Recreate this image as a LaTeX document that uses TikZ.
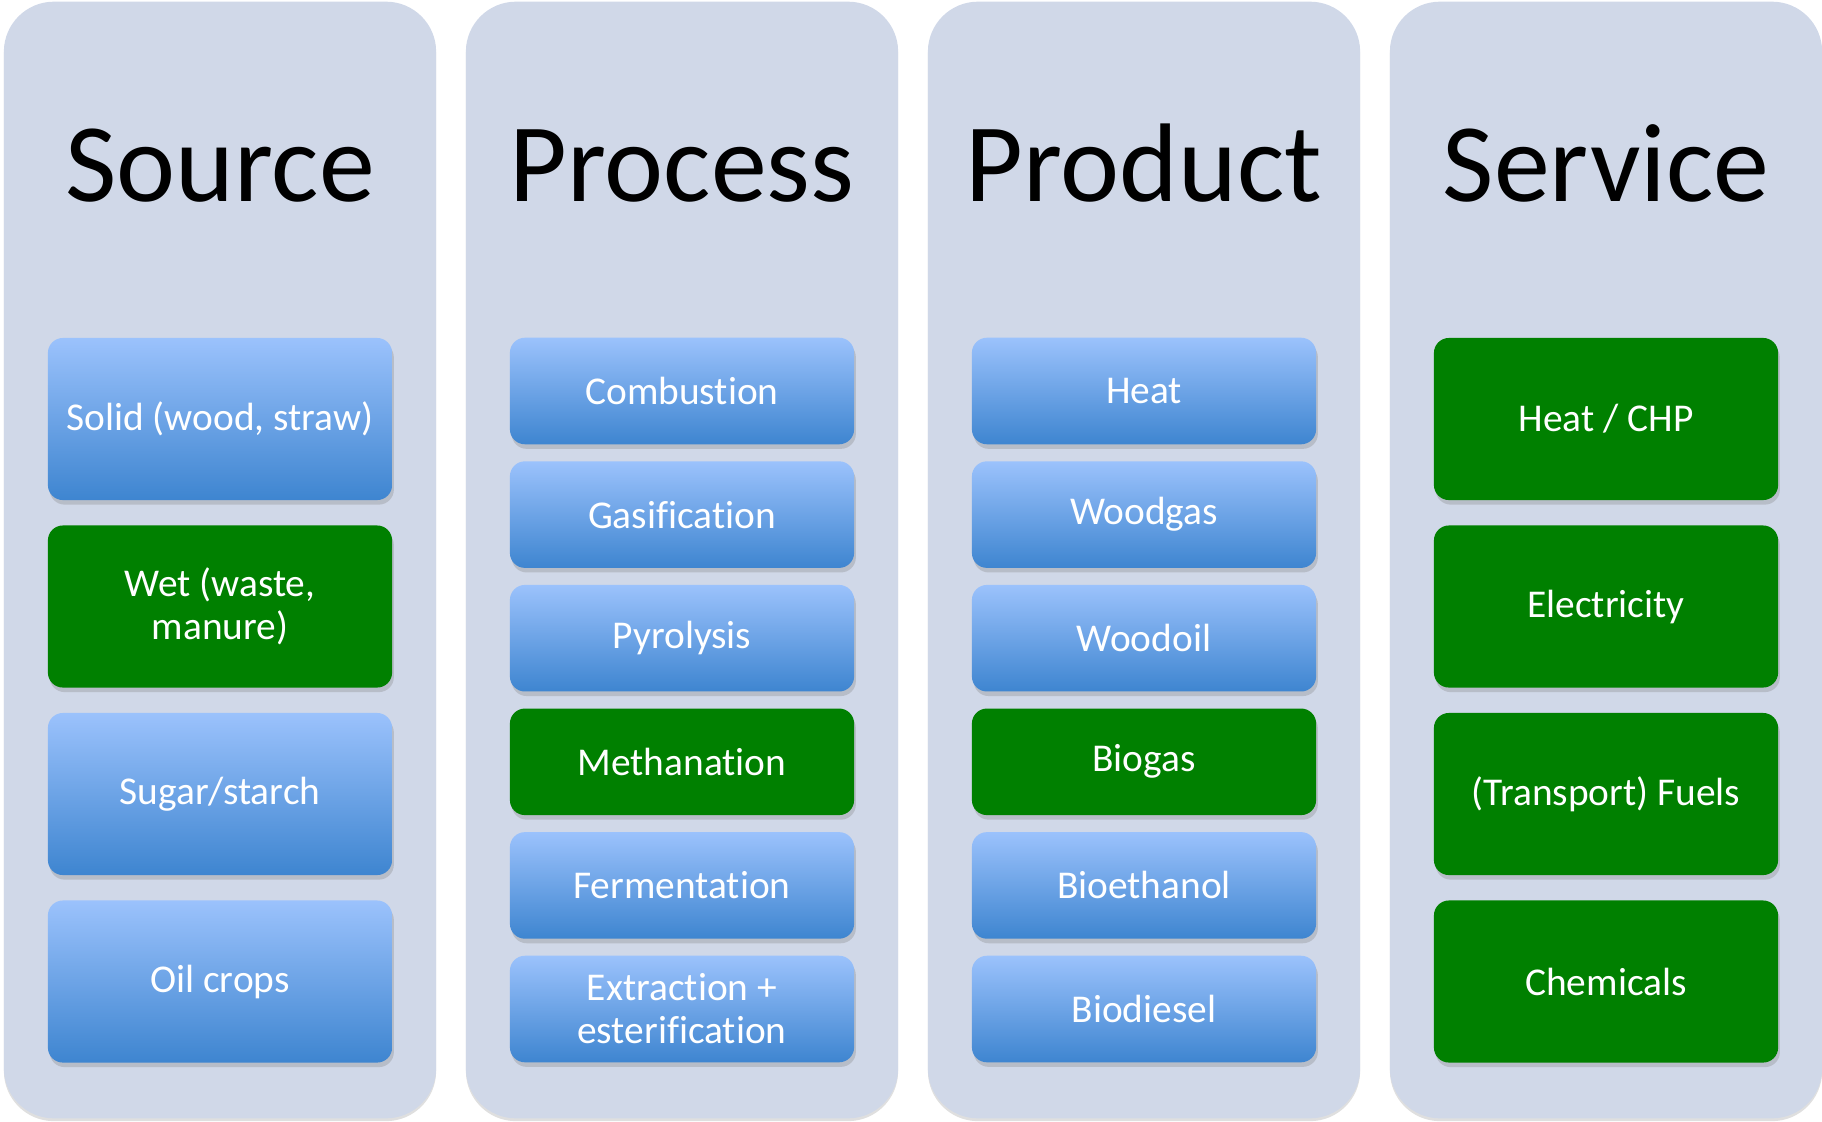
\documentclass[tikz,border=0pt]{standalone}
\usepackage{fontspec}
\setmainfont{Carlito}[RawFeature={-liga;-clig;-calt;-dlig}]
\usetikzlibrary{shadows}

\definecolor{colbg}{RGB}{208,216,232}
\definecolor{boxtop}{RGB}{155,194,252}
\definecolor{boxbot}{RGB}{62,133,208}
\definecolor{boxgreen}{RGB}{0,128,0}

\begin{document}
\begin{tikzpicture}[x=0.01cm, y=-0.01cm,
  column/.style={fill=colbg, rounded corners=0.5cm, minimum width=4.32cm,
    minimum height=11.16cm, inner sep=0pt,
    drop shadow={shadow xshift=0pt, shadow yshift=-0.8pt, opacity=0.25}},
  title/.style={anchor=base, font=\fontsize{31.8}{36}\selectfont},
  box/.style={rounded corners=0.15cm, minimum width=3.44cm, inner sep=2pt,
    text=white, align=center, font=\fontsize{11.2}{12.2}\selectfont,
    drop shadow={shadow xshift=0.5pt, shadow yshift=-1.3pt, opacity=0.3}},
  bluebox/.style={box, top color=boxtop, bottom color=boxbot},
  greenbox/.style={box, fill=boxgreen},
  tall/.style={minimum height=1.62cm},
  short/.style={minimum height=1.065cm}]
  \useasboundingbox (0,0) rectangle (1822,1121);

  % 四个背景栏
  \node[column] (srccol) at (220,560) {};
  \node[column] (proccol) at (682,560) {};
  \node[column] (prodcol) at (1144,560) {};
  \node[column] (servcol) at (1606,560) {};

  % 栏标题
  \node[title] (srctitle) at (220,201) {Source};
  \node[title] (proctitle) at (682,201) {Process};
  \node[title] (prodtitle) at (1144,201) {Product};
  \node[title] (servtitle) at (1606,201) {Service};

  % Source
  \node[bluebox, tall] (solid) at (220,419) {Solid (wood, straw)};
  \node[greenbox, tall] (wet) at (220,606.5) {Wet (waste,\\manure)};
  \node[bluebox, tall] (sugar) at (220,794) {Sugar/starch};
  \node[bluebox, tall] (oil) at (220,981.5) {Oil crops};

  % Process
  \node[bluebox, short] (comb) at (682,391) {Combustion};
  \node[bluebox, short] (gasif) at (682,514.6) {Gasification};
  \node[bluebox, short] (pyro) at (682,638.2) {Pyrolysis};
  \node[greenbox, short] (meth) at (682,761.8) {Methanation};
  \node[bluebox, short] (ferm) at (682,885.4) {Fermentation};
  \node[bluebox, short] (extr) at (682,1009) {Extraction +\\esterification};

  % Product
  \node[bluebox, short] (heat) at (1144,391) {Heat};
  \node[bluebox, short] (woodgas) at (1144,514.6) {Woodgas};
  \node[bluebox, short] (woodoil) at (1144,638.2) {Woodoil};
  \node[greenbox, short] (biogas) at (1144,761.8) {Biogas};
  \node[bluebox, short] (bioeth) at (1144,885.4) {Bioethanol};
  \node[bluebox, short] (biodies) at (1144,1009) {Biodiesel};

  % Service
  \node[greenbox, tall] (chp) at (1606,419) {Heat / CHP};
  \node[greenbox, tall] (elec) at (1606,606.5) {Electricity};
  \node[greenbox, tall] (fuels) at (1606,794) {(Transport) Fuels};
  \node[greenbox, tall] (chem) at (1606,981.5) {Chemicals};
\end{tikzpicture}
\end{document}
